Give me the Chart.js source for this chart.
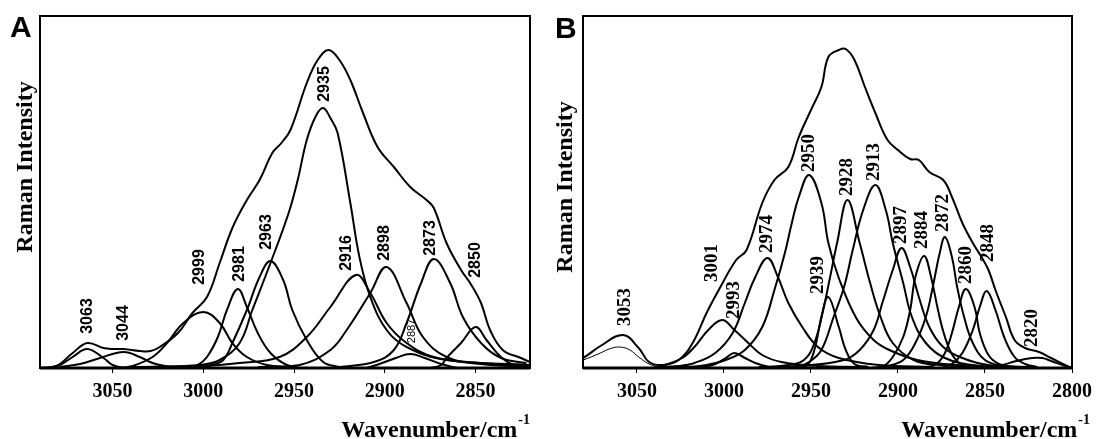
<!DOCTYPE html>
<html>
<head>
<meta charset="utf-8">
<script src="https://cdn.jsdelivr.net/npm/chart.js@4.4.1/dist/chart.umd.min.js"></script>
<style>
  html, body { margin: 0; padding: 0; background: #fff; }
  #wrap { position: relative; width: 1099px; height: 439px; }
  canvas { position: absolute; top: 0; }
</style>
</head>
<body>
<div id="wrap">
  <canvas id="chartA" width="545" height="439" style="left:0"></canvas>
  <canvas id="chartB" width="554" height="439" style="left:545px"></canvas>
</div>
<script>
// ---- Panel A : [wavenumber, intensity] ---- //
var envA  = [[3090,0],[3081,2],[3072,15],[3064,25],[3055,20],[3050,19],[3044,19],[3035,17],[3029,17],[3024,21],[3014,35],[3006,55],[2998,71],[2991,105],[2984,140],[2976,168],[2969,188],[2962,215],[2957,225],[2952,238],[2943,285],[2937,308],[2931,318],[2925,308],[2919,288],[2912,255],[2904,221],[2895,201],[2886,181],[2877,168],[2873,160],[2866,125],[2858,98],[2853,85],[2847,65],[2842,38],[2835,18],[2825,10],[2820,6]];
var a3063 = [[3085,0],[3079,3],[3072,11],[3064,19],[3055,10],[3050,3],[3043,0]];
var a3044 = [[3079,1],[3068,4],[3057,10],[3044,16],[3035,11],[3028,5],[3018,1]];
var a2999 = [[3046,0],[3039,2],[3028,11],[3020,25],[3011,45],[3000,56],[2991,45],[2984,25],[2976,11],[2965,3],[2952,1]];
var a2981 = [[3009,0],[3003,3],[2998,11],[2992,31],[2987,58],[2981,79],[2976,61],[2970,35],[2963,15],[2954,3],[2946,0]];
var a2963 = [[3001,0],[2995,3],[2989,8],[2984,25],[2976,58],[2969,91],[2963,107],[2956,88],[2951,58],[2943,28],[2934,6],[2925,1]];
var a2935 = [[3030,1],[3002,3],[2991,8],[2980,25],[2973,58],[2963,105],[2953,155],[2948,188],[2943,228],[2938,252],[2934,260],[2930,250],[2926,235],[2919,165],[2914,111],[2908,71],[2899,38],[2888,21],[2866,8],[2820,3]];
var a2916 = [[3040,1],[3002,2],[2980,5],[2958,11],[2943,31],[2930,61],[2916,93],[2908,75],[2899,45],[2888,25],[2873,11],[2847,5],[2820,2]];
var a2898 = [[2970,1],[2947,3],[2930,18],[2921,38],[2908,75],[2899,101],[2888,65],[2879,31],[2866,11],[2847,4],[2820,1]];
var a2887 = [[2910,0],[2903,4],[2894,10],[2886,14],[2878,10],[2869,4],[2860,0]];
var a2873 = [[2925,1],[2906,6],[2895,18],[2888,45],[2880,85],[2873,109],[2864,85],[2857,51],[2847,25],[2836,10],[2822,5]];
var a2850 = [[2875,0],[2869,3],[2866,10],[2858,25],[2850,41],[2844,28],[2836,11],[2829,3],[2820,1]];

var ticksA  = [3050, 3000, 2950, 2900, 2850];
var labelsA = ['3063','3044','2999','2981','2963','2935','2916','2898','2887','2873','2850'];
var labelXA = [3063.5, 3044, 3002, 2980, 2965, 2933, 2921, 2900, 2885, 2875, 2850];
var labelYA = [52, 45, 101, 104, 136, 284, 115, 125, 37, 130, 108];

// ---- Panel B ---- //
var envB  = [[3090,4],[3081,10],[3071,22],[3058,33],[3049,20],[3043,6],[3035,3],[3026,8],[3018,25],[3010,55],[3003,78],[2993,108],[2987,118],[2978,165],[2971,188],[2963,201],[2957,231],[2950,258],[2944,281],[2940,311],[2934,318],[2930,319],[2925,308],[2919,281],[2913,255],[2906,228],[2900,218],[2893,209],[2888,208],[2882,196],[2874,188],[2869,171],[2863,145],[2857,125],[2852,111],[2848,98],[2844,78],[2838,51],[2833,28],[2827,20],[2819,16],[2812,10],[2804,3],[2800,0]];
var b3053 = [[3090,4],[3081,8],[3071,15],[3066,19],[3060,21],[3054,18],[3049,11],[3043,4],[3037,1],[3030,0]];
var b3001 = [[3040,1],[3034,3],[3024,10],[3017,21],[3009,38],[3001,48],[2994,38],[2986,25],[2978,13],[2967,6],[2946,2],[2920,1]];
var b2993 = [[3015,0],[3011,1],[3005,4],[2999,10],[2994,15],[2988,10],[2982,5],[2974,1],[2968,0]];
var b2974 = [[3040,1],[3026,2],[3017,5],[3005,15],[2995,35],[2988,65],[2982,91],[2975,110],[2969,91],[2963,65],[2955,41],[2946,21],[2934,10],[2911,3],[2880,1]];
var b2950 = [[3030,1],[3014,2],[2999,8],[2988,18],[2978,41],[2971,78],[2965,115],[2961,145],[2957,171],[2951,193],[2944,165],[2940,125],[2934,90],[2924,50],[2914,28],[2905,18],[2889,8],[2866,3],[2830,1]];
var b2939 = [[2956,0],[2953,2],[2950,8],[2947,25],[2944,51],[2940,71],[2934,41],[2930,18],[2925,4],[2917,1]];
var b2928 = [[2975,1],[2963,3],[2954,8],[2948,25],[2943,58],[2939,91],[2935,125],[2929,168],[2922,125],[2916,85],[2910,51],[2903,25],[2891,8],[2876,3],[2850,1]];
var b2913 = [[2970,1],[2957,2],[2951,6],[2944,18],[2937,51],[2931,81],[2926,118],[2920,158],[2913,183],[2907,158],[2903,125],[2897,85],[2892,51],[2884,25],[2873,10],[2857,3],[2830,1]];
var b2897 = [[2980,1],[2957,2],[2931,8],[2922,18],[2914,38],[2909,65],[2903,98],[2898,120],[2893,101],[2888,71],[2882,41],[2874,21],[2863,10],[2848,3],[2820,1]];
var b2884 = [[2915,0],[2909,1],[2903,11],[2897,31],[2893,58],[2890,91],[2885,112],[2881,91],[2877,58],[2873,31],[2868,11],[2861,1],[2855,0]];
var b2872 = [[2915,0],[2906,2],[2897,8],[2890,25],[2884,51],[2880,81],[2876,115],[2873,131],[2869,111],[2866,81],[2862,51],[2857,25],[2850,8],[2840,2],[2830,0]];
var b2860 = [[2885,0],[2878,4],[2873,15],[2869,35],[2865,61],[2861,79],[2856,61],[2853,35],[2848,13],[2842,4],[2834,1]];
var b2848 = [[2875,0],[2869,4],[2863,15],[2857,38],[2853,61],[2849,77],[2844,58],[2839,31],[2833,11],[2827,4],[2820,1]];
var b2820 = [[2855,0],[2849,1],[2840,3],[2832,7],[2823,10],[2817,10],[2812,7],[2804,2],[2800,0]];

var ticksB  = [3050, 3000, 2950, 2900, 2850, 2800];
var labelsB = ['3053','3001','2993','2974','2950','2939','2928','2913','2897','2884','2872','2860','2848','2820'];
var labelXB = [3057, 3007, 2994, 2975, 2951, 2946, 2929, 2914, 2898, 2886, 2874, 2861, 2848, 2823];
var labelYB = [61, 105, 68, 134, 215, 93, 191, 206, 143, 138, 155, 103, 125, 40];

var SERIF = "'Liberation Serif', 'Times New Roman', serif";
var SANS  = "'Liberation Sans', Arial, sans-serif";

//  Frame, panel letter, axis titles and band labels.
var decor = {
    id: 'decor',
    afterDatasetsDraw: function(chart, args, o) {
        var ctx = chart.ctx, a = chart.chartArea;
        var xs = chart.scales.x, ys = chart.scales.y;
        ctx.save();
        ctx.strokeStyle = '#000';
        ctx.lineWidth = 2;
        ctx.strokeRect(a.left, a.top, a.right - a.left, a.bottom - a.top);
        ctx.lineWidth = 3;
        ctx.beginPath(); ctx.moveTo(a.left, a.bottom); ctx.lineTo(a.right, a.bottom); ctx.stroke();

        ctx.fillStyle = '#000';
        ctx.textAlign = 'center';
        ctx.textBaseline = 'middle';
        o.labels.forEach(function(t, i) {
            ctx.save();
            ctx.translate(xs.getPixelForValue(o.labelX[i]), ys.getPixelForValue(o.labelY[i]));
            ctx.rotate(-Math.PI / 2);
            ctx.font = o.small.indexOf(t) >= 0 ? o.smallFont : o.labelFont;
            ctx.fillText(t, 0, 0);
            ctx.restore();
        });

        //  panel letter
        ctx.textAlign = 'left';
        ctx.textBaseline = 'alphabetic';
        ctx.font = 'bold 30px ' + SANS;
        ctx.fillText(o.letter, o.letterX, o.letterY);

        //  y title
        ctx.save();
        ctx.translate(o.yTitleX, o.yTitleY);
        ctx.rotate(-Math.PI / 2);
        ctx.textAlign = 'center';
        ctx.font = 'bold 24px ' + SERIF;
        ctx.fillText('Raman Intensity', 0, 0);
        ctx.restore();

        //  x title with superscript
        ctx.font = 'bold 14px ' + SERIF;
        var supW = ctx.measureText('-1').width;
        ctx.textAlign = 'right';
        ctx.fillText('-1', o.xTitleEnd, o.xTitleY - 13);
        ctx.font = 'bold 24px ' + SERIF;
        ctx.fillText('Wavenumber/cm', o.xTitleEnd - supW - 1, o.xTitleY);
        ctx.restore();
    }
};

function makeChart(id, series, thin, xMin, xMax, tickVals, pad, deco) {
    var datasets = series.map(function(s) {
        return {
            data: s.map(function(p) { return { x: p[0], y: p[1] }; }),
            borderColor: '#000',
            borderWidth: thin.indexOf(s) >= 0 ? 1 : 2,
            pointRadius: 0,
            fill: false,
            tension: 0.4
        };
    });
    return new Chart(document.getElementById(id), {
        type: 'line',
        data: { datasets: datasets },
        options: {
            responsive: false,
            animation: false,
            layout: { padding: pad },
            scales: {
                x: {
                    type: 'linear', reverse: true, min: xMin, max: xMax,
                    afterBuildTicks: function(s) { s.ticks = tickVals.map(function(v) { return { value: v }; }); },
                    afterFit: function(s) { s.height = 71; },
                    border: { display: false },
                    grid: { drawOnChartArea: false, drawTicks: true, tickLength: 5, color: '#000', lineWidth: 1 },
                    ticks: {
                        autoSkip: false, maxRotation: 0, padding: 7, color: '#000',
                        font: { family: SERIF, size: 20, weight: 'bold' },
                        callback: function(v) { return String(v); }
                    }
                },
                y: { display: false, min: 0, max: 352 }
            },
            plugins: {
                legend: { display: false },
                tooltip: { enabled: false },
                decor: deco
            }
        },
        plugins: [decor]
    });
}

makeChart('chartA',
    [a3063, a3044, a2999, a2981, a2963, a2935, a2916, a2898, a2887, a2873, a2850, envA], [],
    2820, 3090, ticksA,
    { left: 40, top: 16, right: 15, bottom: 0 },
    { labels: labelsA, labelX: labelXA, labelY: labelYA, small: ['2887'],
      labelFont: 'bold 16px ' + SANS, smallFont: '11px ' + SANS,
      letter: 'A', letterX: 10, letterY: 37,
      yTitleX: 32, yTitleY: 167, xTitleEnd: 530, xTitleY: 437 });

makeChart('chartB',
    [b3053, b3001, b2993, b2974, b2950, b2939, b2928, b2913, b2897, b2884, b2872, b2860, b2848, b2820, envB], [b3053],
    2800, 3081, ticksB,
    { left: 38, top: 16, right: 24, bottom: 0 },
    { labels: labelsB, labelX: labelXB, labelY: labelYB, small: [],
      labelFont: 'bold 19px ' + SERIF, smallFont: '11px ' + SERIF,
      letter: 'B', letterX: 10, letterY: 38,
      yTitleX: 27, yTitleY: 187, xTitleEnd: 545, xTitleY: 437 });
</script>
</body>
</html>
